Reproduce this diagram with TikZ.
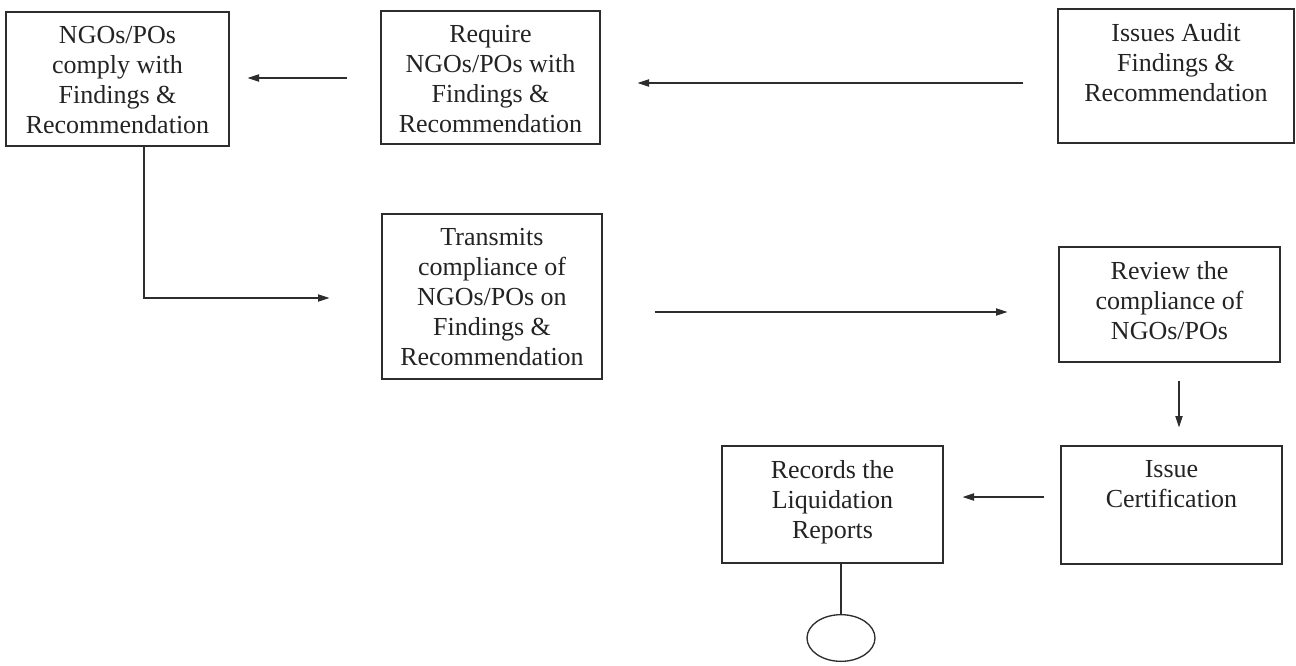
\documentclass[tikz,border=0pt]{standalone}
\usepackage{fontspec}
\setmainfont{Liberation Serif}
\usepackage{xcolor}
\definecolor{Ink}{RGB}{35,35,35}
\definecolor{Rule}{RGB}{45,45,45}
\usepackage{tikz}
\usetikzlibrary{positioning}
\usetikzlibrary{shapes.geometric}
\usetikzlibrary{arrows.meta}
\tikzstyle{Box}=[rectangle,draw=Rule,line width=1pt,inner sep=0pt]
\tikzstyle{Txt}=[align=center,inner sep=0pt,text=Ink,
font=\fontsize{19.5}{22.5}\selectfont]
\tikzstyle{Edge}=[draw=Rule,line width=0.8pt,
-{Triangle[length=8.5pt,width=5.5pt]}]
\tikzstyle{Link}=[draw=Rule,line width=0.8pt]

\begin{document}
\begin{tikzpicture}[x=0.75pt,y=-0.75pt]
        \useasboundingbox (0,0) rectangle (1296,665);
        % boxes
        \node[Box,minimum width=167.25pt,minimum height=100.5pt](comply)
            at(117.5,79){};
        \node[Box,minimum width=164.25pt,minimum height=99.75pt](require)
            at(490.5,77.5){};
        \node[Box,minimum width=177pt,minimum height=100.5pt](issues)
            at(1176,76){};
        \node[Box,minimum width=165pt,minimum height=123.75pt](transmits)
            at(492,296.5){};
        \node[Box,minimum width=165.75pt,minimum height=86.25pt](review)
            at(1169.5,304.5){};
        \node[Box,minimum width=165.75pt,minimum height=88.5pt](certif)
            at(1171.5,505){};
        \node[Box,minimum width=165.75pt,minimum height=87.75pt](records)
            at(832.5,504.5){};
        \node[ellipse,draw=Rule,line width=1pt,inner sep=0pt,
            minimum width=51pt,minimum height=35pt](stop)at(841,638){};
        % texts
        \node[Txt,below=11pt of comply.north](comply-t)
            {NGOs/POs\\comply with\\Findings \&\\Recommendation};
        \node[Txt,below=11pt of require.north](require-t)
            {Require\\NGOs/POs with\\Findings \&\\Recommendation};
        \node[Txt,below=11pt of issues.north](issues-t)
            {Issues Audit\\Findings \&\\Recommendation};
        \node[Txt,below=11pt of transmits.north](transmits-t)
            {Transmits\\compliance of\\NGOs/POs on\\Findings \&\\Recommendation};
        \node[Txt,below=11pt of review.north](review-t)
            {Review the\\compliance of\\NGOs/POs};
        \node[Txt,below=11pt of certif.north](certif-t)
            {Issue\\Certification};
        \node[Txt,below=11pt of records.north](records-t)
            {Records the\\Liquidation\\Reports};
        % connectors
        \draw[Edge,shorten <=24.75pt,shorten >=13.5pt]
            ([yshift=-0.375pt]require.west)--([yshift=0.75pt]comply.east);
        \draw[Edge,shorten <=25.5pt,shorten >=27.75pt]
            ([yshift=-5.25pt]issues.west)--([yshift=-4.125pt]require.east);
        \draw[Edge,shorten >=39pt]
            ([xshift=19.875pt]comply.south)|-([yshift=-1.125pt]transmits.west);
        \draw[Edge,shorten <=39pt,shorten >=38.25pt]
            ([yshift=-11.625pt]transmits.east)--([yshift=-5.625pt]review.west);
        \draw[Edge,shorten <=13.5pt,shorten >=13.5pt]
            ([xshift=7.125pt]review.south)--([xshift=5.625pt]certif.north);
        \draw[Edge,shorten <=12pt,shorten >=14.25pt]
            ([yshift=6pt]certif.west)--([yshift=5.625pt]records.east);
        \draw[Link](records.south -| stop.north)--(stop.north);
    \end{tikzpicture}
\end{document}
